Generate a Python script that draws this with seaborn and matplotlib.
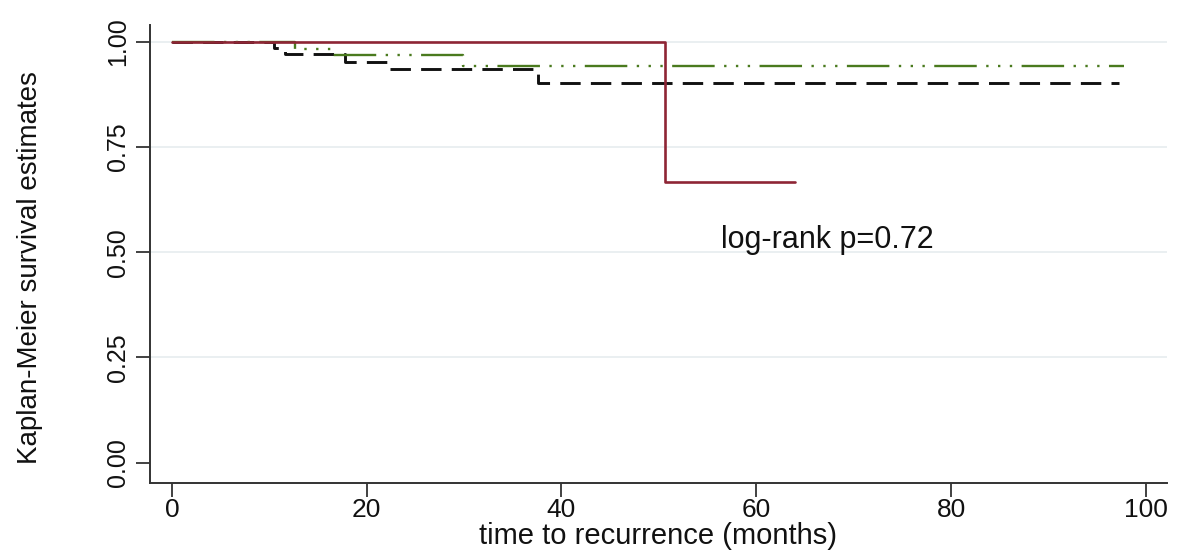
import matplotlib
matplotlib.use("Agg")
import matplotlib.pyplot as plt
import seaborn as sns
import pandas as pd

# ---- data ----
black_time = [0, 10.5, 11.6, 17.8, 22.2, 37.6, 97.2]
black_surv = [1.0, 0.985, 0.971, 0.953, 0.935, 0.903, 0.903]

green_time = [0, 12.6, 16.3, 29.9, 97.8]
green_surv = [1.0, 0.984, 0.968, 0.943, 0.943]

red_time = [0, 50.6, 64.0]
red_surv = [1.0, 0.667, 0.667]

x_ticks = [0, 20, 40, 60, 80, 100]
y_ticks = [0.0, 0.25, 0.5, 0.75, 1.0]
y_tick_labels = ["0.00", "0.25", "0.50", "0.75", "1.00"]
grid_levels = [0.25, 0.5, 0.75, 1.0]

annot_text = "log-rank p=0.72"
x_label = "time to recurrence (months)"
y_label = "Kaplan-Meier survival estimates"

sns.set_style("white")
plt.rcParams["font.family"] = ["Liberation Sans", "DejaVu Sans"]

fig = plt.figure(figsize=(11.96, 5.60), dpi=100)
ax = fig.add_axes([0.125, 0.138, 0.851, 0.817])

for lvl in grid_levels:
    ax.axhline(lvl, color="#e8eef0", lw=1.3, zorder=0)

df_red = pd.DataFrame({"t": red_time, "s": red_surv})
df_black = pd.DataFrame({"t": black_time, "s": black_surv})
df_green = pd.DataFrame({"t": green_time, "s": green_surv})

sns.lineplot(data=df_black, x="t", y="s", ax=ax, color="#111111", lw=2.1,
             drawstyle="steps-post", linestyle=(0, (7, 3.5)), estimator=None,
             sort=False, zorder=3)
sns.lineplot(data=df_green, x="t", y="s", ax=ax, color="#4a7a1e", lw=1.7,
             drawstyle="steps-post",
             linestyle=(0, (18, 4, 1, 4, 1, 4, 1, 4)), estimator=None,
             sort=False, zorder=4)
sns.lineplot(data=df_red, x="t", y="s", ax=ax, color="#8e2535", lw=1.9,
             drawstyle="steps-post", estimator=None, sort=False, zorder=5)

ax.set_xlim(-2.3, 102.2)
ax.set_ylim(-0.048, 1.04)
ax.set_xticks(x_ticks)
ax.set_xticklabels([str(v) for v in x_ticks], fontsize=19)
ax.set_yticks(y_ticks)
ax.set_yticklabels(y_tick_labels, fontsize=18, rotation=90, va="center")

ax.tick_params(axis="both", direction="out", length=10, width=1.3,
               color="#333333", labelcolor="#111111",
               bottom=True, left=True)
ax.tick_params(axis="x", pad=1)
ax.tick_params(axis="y", pad=4)

for side in ["top", "right"]:
    ax.spines[side].set_visible(False)
for side in ["left", "bottom"]:
    ax.spines[side].set_color("#333333")
    ax.spines[side].set_linewidth(1.4)

ax.set_xlabel(x_label, fontsize=21, labelpad=0, color="#111111")
ax.set_ylabel(y_label, fontsize=20, color="#111111")
ax.yaxis.set_label_coords(-0.105, 0.47)

ax.text(56.4, 0.53, annot_text, fontsize=22, va="center", ha="left",
        color="#111111")

fig.savefig("out.png", dpi=100)
